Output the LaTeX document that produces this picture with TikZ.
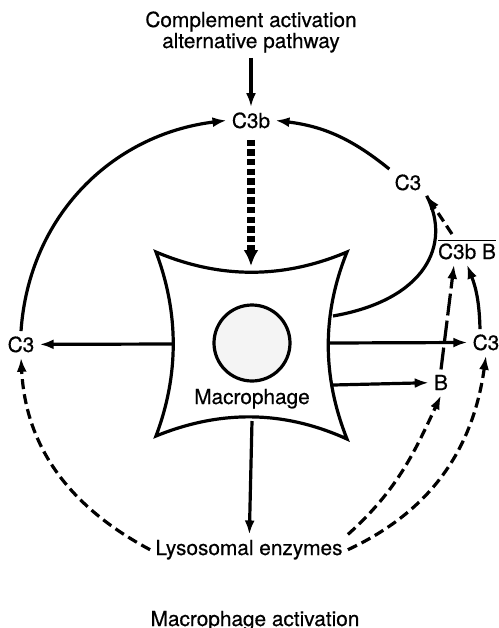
\documentclass[tikz,border=0pt]{standalone}
\usepackage{amsmath}
\usepackage{fontspec}
\setmainfont{TeX Gyre Heros}[FakeBold=0.5]
\usepackage{tikz}
\usetikzlibrary{arrows.meta,calc}
\definecolor{ink}{RGB}{0,0,0}
\definecolor{stipple}{RGB}{244,244,244}
\tikzset{
  flow/.style={line width=1.6pt,ink,-{Latex[length=7pt,width=5pt]}},
  flux/.style={flow,dash pattern=on 5pt off 2.6pt},
  longflux/.style={flow,dash pattern=on 11pt off 2.6pt},
  signal/.style={line width=3.6pt,ink,dash pattern=on 3.2pt off 1.6pt,
    -{Latex[length=8pt,width=7.5pt]}},
  curl/.style={line width=1.6pt,ink},
  cellwall/.style={line width=1.6pt,ink,line join=miter},
  nucleus/.style={circle,draw=ink,line width=1.6pt,fill=stipple,
    minimum size=38pt,inner sep=0pt},
  label/.style={font=\fontsize{10.4}{10.5}\selectfont,align=center,
    text=ink,inner sep=2.5pt}
}
\begin{document}
\begin{tikzpicture}[x=0.5pt,y=-0.5pt]
  \useasboundingbox (0,0) rectangle (499,628);
  % texts
  \node[label] (pathway) at (251,32) {Complement activation\\alternative pathway};
  \node[label,anchor=base] (c3b) at (251,128) {C3b};
  \node[label,anchor=base] (c3t) at (408,190) {C3};
  \node[label,anchor=base] (c3bb) at (467,259) {$\overline{\text{C3b\ B}}$};
  \node[label,anchor=base] (c3l) at (21,352) {C3};
  \node[label,anchor=base] (c3r) at (486,350) {C3};
  \node[label,anchor=base] (b) at (441,390) {B};
  \node[label,anchor=base] (lys) at (249,555) {Lysosomal enzymes};
  \node[label,anchor=base] (act) at (255,626) {Macrophage activation};
  % the cell
  \draw[cellwall] (156,252) .. controls (220,279) and (283,279) .. (347,252)
    .. controls (322,314) and (322,376) .. (347,439)
    .. controls (283,410) and (220,410) .. (156,436)
    .. controls (179,375) and (179,313) .. cycle;
  \node[nucleus] (nuc) at (252,343) {};
  \node[label,anchor=base] (mac) at (252,404) {Macrophage};
  \coordinate (celltop) at (251,266);
  \coordinate (cellwest) at (173,344);
  \coordinate (celleast) at (330,343);
  \coordinate (cellb) at (333,385);
  \coordinate (cellcurl) at (333,316);
  \coordinate (cellsouth) at (252,421);
  % connectors
  \draw[flow] (pathway) -- (c3b);
  \draw[signal,shorten <=3pt] (c3b) -- (celltop);
  \draw[flow] (cellwest) -- (c3l);
  \draw[flow] (celleast) -- (c3r);
  \draw[flow] (cellb) -- (b);
  \draw[flow] (cellsouth) -- (lys);
  \draw[flow] (c3l.north) to[out=86,in=187] (c3b.west);
  \draw[flow] (c3t.north west) to[out=141,in=-7] (c3b.east);
  \draw[curl] (cellcurl) .. controls (425,300) and (452,245) .. (c3t.south east);
  \draw[flux] ($(c3bb.north)+(-15,0)$) -- (c3t.south east);
  \draw[longflux] (b.north) -- ($(c3bb.south)+(-13,0)$);
  \draw[flow] ($(c3r.north)+(-6,0)$) to[bend right=10] (c3bb.south);
  \draw[flux] (lys.west) to[out=152,in=-87] (c3l.south);
  \draw[flux] (lys.north east) to[out=42,in=245] (b.south);
  \draw[flux] (lys.east) to[out=25,in=262] (c3r.south);
\end{tikzpicture}
\end{document}
